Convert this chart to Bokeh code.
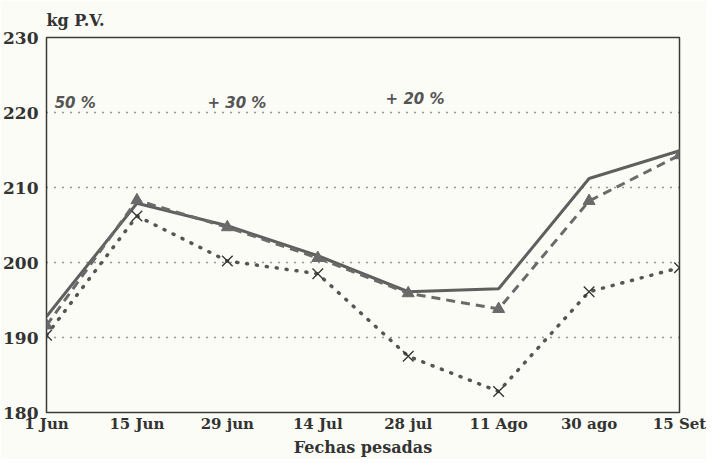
from bokeh.plotting import figure
from bokeh.models import Range1d, FixedTicker, Label
from bokeh.embed import file_html
from bokeh.resources import INLINE

fechas = ["1 Jun", "15 Jun", "29 jun", "14 Jul", "28 jul", "11 Ago", "30 ago", "15 Set"]
serie_continua = [192.8, 207.9, 204.9, 200.9, 196.1, 196.5, 211.2, 214.9]
serie_guiones = [191.6, 208.3, 204.7, 200.6, 195.9, 193.8, 208.2, 214.3]
serie_puntos = [190.3, 206.2, 200.2, 198.5, 187.5, 182.8, 196.1, 199.3]
y_ticks = [180, 190, 200, 210, 220, 230]
grid_vals = [190, 200, 210, 220]
anotaciones = ["50 %", "+ 30 %", "+ 20 %"]
anot_x = [0.09, 1.78, 3.75]
anot_dy = [1, 1, 5]

xs = list(range(len(fechas)))

BG = "#fcfcf6"
SERIF = "DejaVu Serif"

p = figure(width=706, height=459, output_backend="svg", toolbar_location=None,
           x_range=Range1d(0, len(fechas) - 1), y_range=Range1d(180, 230),
           background_fill_color=BG, border_fill_color=BG,
           min_border_left=46, min_border_right=27, min_border_top=37, min_border_bottom=47)

p.title.text = "kg P.V."
p.title.align = "left"
p.title.text_font = SERIF
p.title.text_font_style = "bold"
p.title.text_font_size = "16px"
p.title.text_color = "#333333"
p.title.standoff = 16

p.outline_line_color = "#3a3a3a"
p.outline_line_width = 1.5

# grid
p.xgrid.visible = False
p.ygrid.ticker = FixedTicker(ticks=grid_vals)
p.ygrid.grid_line_color = "#333333"
p.ygrid.grid_line_width = 1.6
p.ygrid.grid_line_dash = "1 7"

# axes
p.xaxis.ticker = FixedTicker(ticks=xs)
p.xaxis.major_label_overrides = {i: f for i, f in enumerate(fechas)}
p.yaxis.ticker = FixedTicker(ticks=y_ticks)
for ax in (p.xaxis, p.yaxis):
    ax.axis_line_color = None
    ax.major_tick_line_color = None
    ax.minor_tick_line_color = None
    ax.major_tick_out = 0
    ax.major_tick_in = 0
    ax.major_label_text_font = SERIF
    ax.major_label_text_font_style = "bold"
    ax.major_label_text_color = "#333333"
p.yaxis.major_label_text_font_size = "17px"
p.xaxis.major_label_text_font_size = "15px"
p.yaxis.major_label_standoff = 8
p.xaxis.major_label_standoff = 2
p.xaxis.axis_label = "Fechas pesadas"
p.xaxis.axis_label_text_font = SERIF
p.xaxis.axis_label_text_font_style = "bold"
p.xaxis.axis_label_text_font_size = "16px"
p.xaxis.axis_label_text_color = "#333333"
p.xaxis.axis_label_standoff = 2

# series
p.line(xs, serie_continua, line_color="#5f5f5f", line_width=3)
p.line(xs, serie_guiones, line_color="#6a6a6a", line_width=3, line_dash="9 6")
p.scatter(xs, serie_guiones, marker="triangle", size=12, fill_color="#6a6a6a",
          line_color="#6a6a6a")
p.line(xs, serie_puntos, line_color="#555555", line_width=3.5, line_dash="1 9",
       line_cap="round")
p.scatter(xs, serie_puntos, marker="x", size=15, line_color="#333333", line_width=1.3)

# annotations
for t, x, dy in zip(anotaciones, anot_x, anot_dy):
    p.add_layout(Label(x=x, y=220, y_offset=dy, text=t, text_font="DejaVu Sans",
                       text_font_style="bold italic", text_font_size="15px",
                       text_color="#555555", text_baseline="bottom", text_align="left"))

open("out.html", "w").write(file_html(p, INLINE))
